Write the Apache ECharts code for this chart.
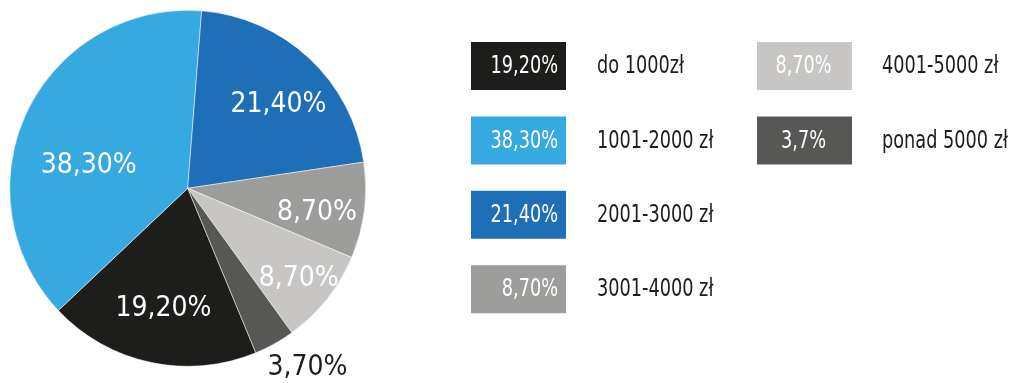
<!DOCTYPE html>
<html>
<head>
<meta charset="utf-8">
<script src="https://cdn.jsdelivr.net/npm/echarts@6/dist/echarts.min.js"></script>
<style>
html,body{margin:0;padding:0;background:#fff;}
#chart{width:1011px;height:383px;}
</style>
</head>
<body>
<div id="chart"></div>
<script>
// ---- data ----
var categories = ['do 1000zł', '1001-2000 zł', '2001-3000 zł', '3001-4000 zł', '4001-5000 zł', 'ponad 5000 zł'];
var values = [19.2, 38.3, 21.4, 8.7, 8.7, 3.7];
var boxLabels = ['19,20%', '38,30%', '21,40%', '8,70%', '8,70%', '3,7%'];
var colors = ['#1d1d1b', '#36a9e1', '#1e6fb8', '#9d9d9c', '#c8c6c5', '#575756'];

// ---- styling / layout (not data) ----
var FONT = "'Liberation Sans Narrow','DejaVu Sans Condensed','Roboto Condensed',sans-serif";
var labelColors = ['#ffffff', '#ffffff', '#ffffff', '#ffffff', '#ffffff', '#1d1d1b'];
var labelNudge = [[-5, 30], [-16, 17], [28, -16], [38, 13], [39, 33], [75, 99]];
var SQUEEZE = 0.82;

function fmt(v) { return v.toFixed(2).replace('.', ',') + '%'; }

var pieData = categories.map(function (c, i) {
  return {
    name: c,
    value: values[i],
    itemStyle: { color: colors[i] },
    label: { color: labelColors[i] }
  };
});

// legend boxes built from arrays
var graphics = [];
categories.forEach(function (c, i) {
  var col = i < 4 ? 0 : 1;
  var row = i < 4 ? i : i - 4;
  var bx = col === 0 ? 471 : 757;
  var by = 42 + row * 74.4;
  var bw = 95, bh = 48;
  graphics.push({
    type: 'rect', silent: true,
    shape: { x: bx, y: by, width: bw, height: bh },
    style: { fill: colors[i] }
  });
  graphics.push({
    type: 'text', silent: true,
    x: col === 0 ? bx + 87 : bx + bw / 2 - 1,
    y: by + bh / 2 + 1,
    scaleX: SQUEEZE,
    style: {
      text: boxLabels[i], fill: '#ffffff',
      font: '24px ' + FONT,
      align: col === 0 ? 'right' : 'center', verticalAlign: 'middle'
    }
  });
  graphics.push({
    type: 'text', silent: true,
    x: col === 0 ? 597 : 882,
    y: by + bh / 2 + 1,
    scaleX: SQUEEZE,
    style: {
      text: c, fill: '#1d1d1b',
      font: '24px ' + FONT,
      align: 'left', verticalAlign: 'middle'
    }
  });
});

var chart = echarts.init(document.getElementById('chart'), null, { renderer: 'canvas' });
chart.setOption({
  animation: false,
  backgroundColor: '#ffffff',
  graphic: graphics,
  series: [{
    type: 'pie',
    center: [187.7, 188.3],
    radius: 178,
    startAngle: -67.5,
    clockwise: true,
    silent: true,
    emphasis: { disabled: true },
    itemStyle: { borderColor: '#ffffff', borderWidth: 0.5 },
    label: {
      show: true,
      position: 'inside',
      fontFamily: FONT,
      fontSize: 28,
      formatter: function (p) { return fmt(p.value); }
    },
    labelLine: { show: false },
    labelLayout: function (p) {
      return { dx: labelNudge[p.dataIndex][0], dy: labelNudge[p.dataIndex][1] };
    },
    data: pieData
  }]
});
</script>
</body>
</html>
